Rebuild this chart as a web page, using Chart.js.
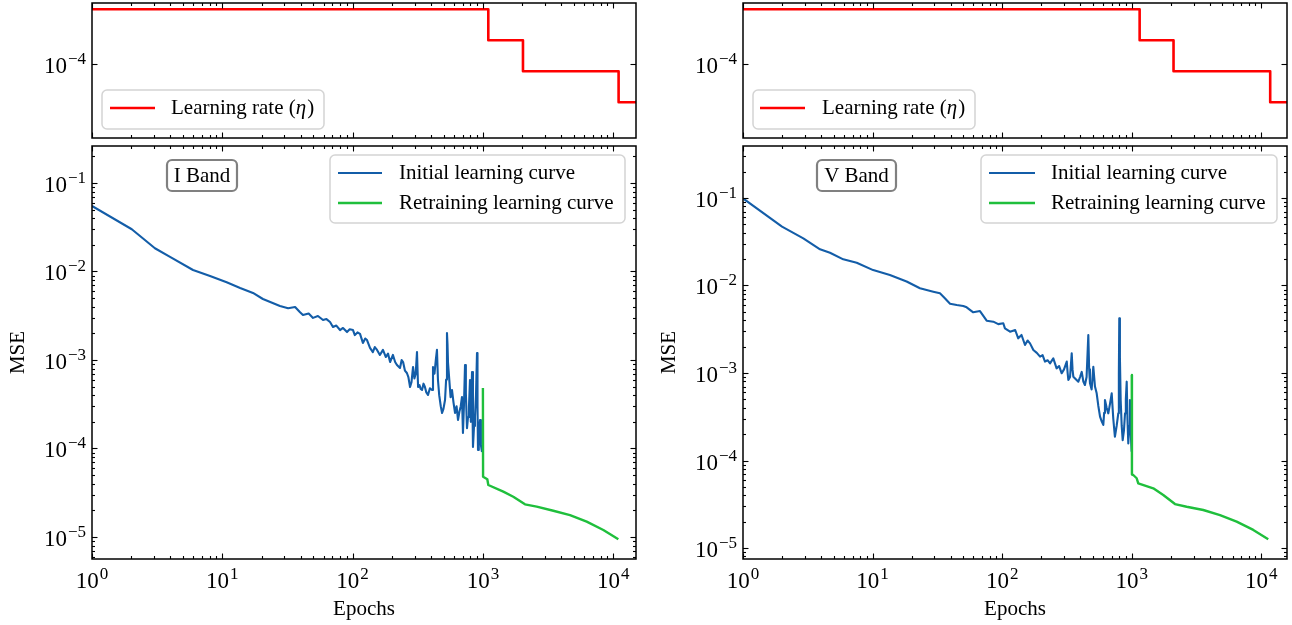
<!DOCTYPE html>
<html lang="en">
<head>
<meta charset="UTF-8">
<title>Learning curves - I and V band</title>
<script src="https://cdn.jsdelivr.net/npm/chart.js"></script>
<style>
  body { margin: 0; background: #fff; }
  #fig { position: relative; width: 1292px; height: 625px; }
  #fig canvas { position: absolute; left: 0; top: 0; }
</style>
</head>
<body>
<div id="fig">
  <canvas id="lrI" width="1292" height="625"></canvas>
  <canvas id="mseI" width="1292" height="625"></canvas>
  <canvas id="lrV" width="1292" height="625"></canvas>
  <canvas id="mseV" width="1292" height="625"></canvas>
</div>
<script>
// ---- data ----
const xTickExps = [0, 1, 2, 3, 4];
const mseTickExps = [-1, -2, -3, -4, -5];
const lrTickExps = [-4];

const lrEpochsI = [1, 1100, 2030, 11000, 30000];
const lrValuesI = [3.4e-4, 1.7e-4, 8.5e-5, 4.25e-5, 4.25e-5];
const lrEpochsV = [1, 1150, 2100, 11700, 30000];
const lrValuesV = [3.4e-4, 1.7e-4, 8.5e-5, 4.25e-5, 4.25e-5];

const initEpochsI = [1, 2.02, 3.04, 3.97, 5.96, 8.05, 10.8, 13.7, 17.2, 20.5, 27.7, 32, 36.2, 39.5, 41.6,
  46, 49.7, 54.2, 59.3, 63, 67.1, 70.7, 75, 80.1, 84.4, 90.6, 95, 100.7, 104, 109, 114, 120, 125, 129, 136, 143, 148, 154, 162, 171,
  180, 187, 194, 204, 212, 219, 231, 238, 244, 252, 261, 268, 276, 283, 291, 298, 305, 312, 318, 326, 333, 341, 350, 359, 368, 379,
  392, 407, 414, 425, 435, 444, 452, 462, 475, 486, 498, 512, 522, 530, 535, 540, 552, 565, 579, 595, 611, 628, 644, 660, 676, 691,
  703, 715, 729, 740, 755, 769, 782, 796, 808, 825, 839, 855, 869, 885, 901, 909, 917, 930, 950, 965, 984];
const initMseI = [0.055, 0.030, 0.0183, 0.0146, 0.0104, 0.0089, 0.00755, 0.00652, 0.00572, 0.00489, 0.00407, 0.00385, 0.00397, 0.00346, 0.00322,
  0.00335, 0.00299, 0.00314, 0.00283, 0.00290, 0.00269, 0.00236, 0.00245, 0.00218, 0.00230, 0.00207, 0.00222, 0.00218, 0.00191, 0.00205, 0.00197, 0.00156, 0.00175, 0.00168, 0.00137, 0.00123, 0.00140, 0.00130, 0.00114, 0.00130,
  0.00108, 0.00118, 0.000949, 0.00114, 0.00095, 0.000878, 0.000812, 0.00100, 0.000949, 0.000760, 0.000713, 0.000640, 0.000495, 0.000560, 0.000834, 0.000620, 0.000700, 0.00123, 0.000495, 0.000520, 0.000470, 0.000458, 0.000540, 0.000495, 0.000430, 0.000402,
  0.000480, 0.000458, 0.000834, 0.000700, 0.00100, 0.00130, 0.000594, 0.000400, 0.000300, 0.000252, 0.000280, 0.000353, 0.000600, 0.00202, 0.00150, 0.000925, 0.000600, 0.000380, 0.000458, 0.000330, 0.000252, 0.000300, 0.000210, 0.000260, 0.000300, 0.000382,
  0.000150, 0.000300, 0.000878, 0.000420, 0.000170, 0.000227, 0.000300, 0.000594, 0.000200, 0.000731, 0.000104, 0.000180, 0.000227, 0.000400, 0.00120, 0.000300, 0.0000962, 0.000150, 0.000210, 0.000110, 0.0000912];

const retrainEpochsI = [1000, 1003, 1081, 1100, 1434, 1711, 2103, 2587, 3470, 4660, 6260, 8400, 10950];
const retrainMseI = [4.83e-4, 4.8e-5, 4.49e-5, 3.87e-5, 3.25e-5, 2.85e-5, 2.34e-5, 2.20e-5, 1.98e-5, 1.77e-5, 1.49e-5, 1.20e-5, 9.42e-6];

const initEpochsV = [1, 2, 2.92, 3.93, 4.69, 5.94, 7.54, 10.1, 13.6, 18.3, 23.2, 29.4, 33.1, 35.2, 39.6, 44.6,
  50.1, 53.2, 59.8, 67.4, 75.9, 85.4, 93.3, 102, 105, 115, 126, 133, 141, 150, 157, 164, 174, 185, 196, 205, 214, 224, 234, 248,
  263, 275, 288, 300, 315, 320, 324, 334, 344, 349, 354, 370, 387, 399, 411, 423, 435, 448, 462, 469, 476, 490, 505, 520, 536, 552,
  569, 586, 603, 612, 621, 640, 659, 680, 700, 720, 741, 765, 787, 795, 801, 810, 821, 836, 851, 870, 887, 900, 914, 926, 940, 955,
  968, 983, 998];
const initMseV = [0.099, 0.047, 0.0346, 0.0259, 0.0237, 0.0199, 0.0182, 0.0150, 0.0132, 0.0111, 0.00929, 0.00850, 0.00814, 0.00745, 0.0062, 0.00598,
  0.00583, 0.00563, 0.00494, 0.00510, 0.00396, 0.00386, 0.00362, 0.00370, 0.00324, 0.00297, 0.00310, 0.00249, 0.00272, 0.00209, 0.00235, 0.00218, 0.00183, 0.00170, 0.00154, 0.00160, 0.00135, 0.00140, 0.00129, 0.00147,
  0.00113, 0.00120, 0.000993, 0.00110, 0.00135, 0.00100, 0.000832, 0.000900, 0.00168, 0.00110, 0.000908, 0.000850, 0.000796, 0.000900, 0.00103, 0.000800, 0.000730, 0.000900, 0.00272, 0.00110, 0.000762, 0.000650, 0.00118, 0.000700, 0.000586, 0.000420,
  0.000317, 0.000280, 0.000255, 0.000350, 0.000491, 0.000400, 0.000346, 0.000450, 0.000586, 0.000300, 0.000187, 0.000250, 0.000346, 0.00100, 0.00422, 0.00150, 0.000491, 0.000250, 0.000171, 0.000220, 0.000346, 0.000500, 0.000796, 0.000300, 0.000157, 0.000250,
  0.000491, 0.000200, 0.000126];

const retrainEpochsV = [1000, 1003, 1027, 1091, 1122, 1465, 1750, 2155, 2652, 3563, 4795, 6446, 8664, 11300];
const retrainMseV = [9.48e-4, 6.9e-5, 6.83e-5, 6.27e-5, 5.49e-5, 4.81e-5, 4.03e-5, 3.18e-5, 2.96e-5, 2.72e-5, 2.38e-5, 2.00e-5, 1.61e-5, 1.26e-5];

// ---- drawing helpers ----
const SERIF = '"Liberation Serif", "Times New Roman", serif';
const TICK_PX = 23, SUP_PX = 17, TEXT_PX = 21;
const BLUE = '#135da8', GREEN = '#1fbf3c', RED = '#ff0000';

function pts(xs, ys) { return xs.map((x, i) => ({ x: x, y: ys[i] })); }

function powLabel(ctx, exp, x, y, align) {
  const sup = (exp < 0 ? '\u2212' : '') + Math.abs(exp);
  ctx.font = TICK_PX + 'px ' + SERIF;
  const wb = ctx.measureText('10').width;
  ctx.font = SUP_PX + 'px ' + SERIF;
  const ws = ctx.measureText(sup).width;
  const total = wb + ws + 1;
  const x0 = align === 'right' ? x - total : x - total / 2;
  ctx.textAlign = 'left';
  ctx.textBaseline = 'alphabetic';
  ctx.font = TICK_PX + 'px ' + SERIF;
  ctx.fillText('10', x0, y);
  ctx.font = SUP_PX + 'px ' + SERIF;
  ctx.fillText(sup, x0 + wb + 1, y - 9);
}

// text with an italic eta
function richText(ctx, text, x, y) {
  let cx = x;
  for (const part of text.split(/(η)/)) {
    if (!part) continue;
    ctx.font = (part === 'η' ? 'italic ' : '') + TEXT_PX + 'px ' + SERIF;
    ctx.fillText(part, cx, y);
    cx += ctx.measureText(part).width + (part === 'η' ? 1 : 0);
  }
}

function roundBox(ctx, x, y, w, h, r) {
  ctx.beginPath();
  ctx.moveTo(x + r, y);
  ctx.arcTo(x + w, y, x + w, y + h, r);
  ctx.arcTo(x + w, y + h, x, y + h, r);
  ctx.arcTo(x, y + h, x, y, r);
  ctx.arcTo(x, y, x + w, y, r);
  ctx.closePath();
}

const framePlugin = {
  id: 'frame',
  afterDatasetsDraw(chart, args, o) {
    const { ctx, chartArea: a, scales: { x, y } } = chart;
    ctx.save();
    ctx.strokeStyle = '#000';
    ctx.fillStyle = '#000';
    ctx.lineWidth = 1.1;
    const seg = (x0, y0, x1, y1) => { ctx.beginPath(); ctx.moveTo(x0, y0); ctx.lineTo(x1, y1); ctx.stroke(); };
    for (let e = -1; e <= 5; e++) {
      for (let m = 1; m <= 9; m++) {
        const v = m * Math.pow(10, e);
        if (v < x.min || v > x.max) continue;
        const px = Math.round(x.getPixelForValue(v)) + 0.5;
        const len = m === 1 ? 5.5 : 3;
        seg(px, a.bottom, px, a.bottom - len);
        seg(px, a.top, px, a.top + len);
      }
    }
    for (let e = -7; e <= 1; e++) {
      for (let m = 1; m <= 9; m++) {
        if (m > 1 && !o.yMinor) continue;
        const v = m * Math.pow(10, e);
        if (v < y.min || v > y.max) continue;
        const py = Math.round(y.getPixelForValue(v)) + 0.5;
        const len = m === 1 ? 5.5 : 3;
        seg(a.left, py, a.left + len, py);
        seg(a.right, py, a.right - len, py);
      }
    }
    ctx.lineWidth = 1.5;
    ctx.strokeRect(a.left, a.top, a.right - a.left, a.bottom - a.top);

    if (o.xLabels) {
      for (const e of o.xLabels) powLabel(ctx, e, x.getPixelForValue(Math.pow(10, e)), a.bottom + 29, 'center');
    }
    for (const e of o.yLabels) powLabel(ctx, e, a.left - 6, y.getPixelForValue(Math.pow(10, e)) + 9, 'right');

    ctx.font = TEXT_PX + 'px ' + SERIF;
    ctx.textAlign = 'center';
    ctx.textBaseline = 'middle';
    if (o.xTitle) ctx.fillText(o.xTitle, (a.left + a.right) / 2, a.bottom + 50);
    if (o.yTitle) {
      ctx.save();
      ctx.translate(a.left - 74, (a.top + a.bottom) / 2);
      ctx.rotate(-Math.PI / 2);
      ctx.fillText(o.yTitle, 0, 0);
      ctx.restore();
    }
    ctx.restore();
  }
};

const boxLegendPlugin = {
  id: 'boxLegend',
  afterDraw(chart, args, o) {
    const ctx = chart.ctx;
    ctx.save();
    if (o.box) {
      const b = o.box;
      roundBox(ctx, b.x, b.y, b.w, b.h, 5);
      ctx.fillStyle = 'rgba(255,255,255,0.8)';
      ctx.fill();
      ctx.strokeStyle = '#d4d4d4';
      ctx.lineWidth = 1.5;
      ctx.stroke();
      chart.data.datasets.forEach((ds, i) => {
        const ry = b.rows[i];
        ctx.strokeStyle = ds.borderColor;
        ctx.lineWidth = ds.borderWidth;
        ctx.beginPath();
        ctx.moveTo(b.handle[0], ry);
        ctx.lineTo(b.handle[1], ry);
        ctx.stroke();
        ctx.fillStyle = '#000';
        ctx.textAlign = 'left';
        ctx.textBaseline = 'middle';
        richText(ctx, ds.label, b.textX, ry);
      });
    }
    if (o.band) {
      const t = o.band;
      roundBox(ctx, t.x, t.y, t.w, t.h, 5);
      ctx.fillStyle = '#fff';
      ctx.fill();
      ctx.strokeStyle = '#808080';
      ctx.lineWidth = 2.2;
      ctx.stroke();
      ctx.fillStyle = '#000';
      ctx.font = TEXT_PX + 'px ' + SERIF;
      ctx.textAlign = 'center';
      ctx.textBaseline = 'middle';
      ctx.fillText(t.text, t.x + t.w / 2, t.y + t.h / 2 + 1);
    }
    ctx.restore();
  }
};

function makePanel(id, area, xr, yr, datasets, frame, legend) {
  return new Chart(document.getElementById(id), {
    type: 'line',
    data: { datasets: datasets },
    options: {
      responsive: false,
      animation: false,
      devicePixelRatio: 1,
      events: [],
      layout: { padding: { left: area[0], top: area[1], right: 1292 - area[2], bottom: 625 - area[3] } },
      scales: {
        x: { type: 'logarithmic', min: xr[0], max: xr[1], display: false },
        y: { type: 'logarithmic', min: yr[0], max: yr[1], display: false }
      },
      elements: { point: { radius: 0 }, line: { tension: 0, borderJoinStyle: 'round' } },
      plugins: {
        legend: { display: false },
        tooltip: { enabled: false },
        frame: frame,
        boxLegend: legend
      }
    },
    plugins: [framePlugin, boxLegendPlugin]
  });
}

const lrSet = (xs, ys) => [{ label: 'Learning rate (η)', data: pts(xs, ys), borderColor: RED, borderWidth: 2.6, stepped: 'before' }];
const mseSets = (ie, im, re, rm) => [
  { label: 'Initial learning curve', data: pts(ie, im), borderColor: BLUE, borderWidth: 2.1, order: 1 },
  { label: 'Retraining learning curve', data: pts(re, rm), borderColor: GREEN, borderWidth: 2.4, order: 0 }
];

// left column: I band
makePanel('lrI', [92, 3, 636, 138], [1, 14960], [1.91e-5, 3.91e-4], lrSet(lrEpochsI, lrValuesI),
  { yMinor: false, yLabels: lrTickExps },
  { box: { x: 102, y: 90, w: 222, h: 39, rows: [108], handle: [110, 155], textX: 171 } });
makePanel('mseI', [92, 146, 636, 559], [1, 14960], [5.64e-6, 0.2618], mseSets(initEpochsI, initMseI, retrainEpochsI, retrainMseI),
  { yMinor: true, yLabels: mseTickExps, xLabels: xTickExps, xTitle: 'Epochs', yTitle: 'MSE' },
  { box: { x: 330, y: 155, w: 295, h: 68, rows: [173, 203], handle: [338, 382], textX: 399 },
    band: { text: 'I Band', x: 167, y: 160, w: 70, h: 31 } });

// right column: V band
makePanel('lrV', [743, 3, 1287, 138], [1, 15770], [1.91e-5, 3.91e-4], lrSet(lrEpochsV, lrValuesV),
  { yMinor: false, yLabels: lrTickExps },
  { box: { x: 753, y: 90, w: 222, h: 39, rows: [108], handle: [760, 805], textX: 822 } });
makePanel('mseV', [743, 146, 1287, 559], [1, 15770], [7.49e-6, 0.3928], mseSets(initEpochsV, initMseV, retrainEpochsV, retrainMseV),
  { yMinor: true, yLabels: mseTickExps, xLabels: xTickExps, xTitle: 'Epochs', yTitle: 'MSE' },
  { box: { x: 981, y: 155, w: 296, h: 68, rows: [173, 203], handle: [989, 1035], textX: 1051 },
    band: { text: 'V Band', x: 817, y: 160, w: 79, h: 31 } });
</script>
</body>
</html>
